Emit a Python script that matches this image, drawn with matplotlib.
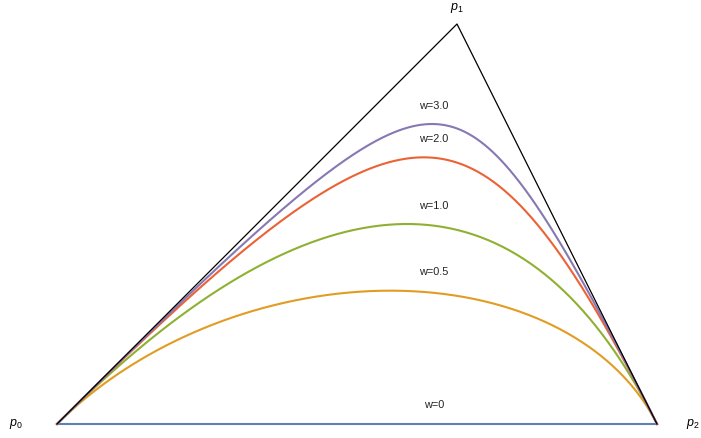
import numpy as np
import matplotlib.pyplot as plt

plt.rcParams['font.family'] = ['Liberation Sans', 'DejaVu Sans']
plt.rcParams['mathtext.fontset'] = 'custom'
plt.rcParams['mathtext.it'] = 'Liberation Sans:italic'
plt.rcParams['mathtext.rm'] = 'Liberation Sans'

# control points of the quadratic curve
p0 = np.array([0.0, 0.0])
p1 = np.array([4.0, 4.0])
p2 = np.array([6.0, 0.0])

weights = [0, 0.5, 1.0, 2.0, 3.0]
labels = ['w=0', 'w=0.5', 'w=1.0', 'w=2.0', 'w=3.0']
colors = ['#5e81b5', '#e19c24', '#8fb032', '#eb6235', '#8778b3']


def rational_bezier(w, n=300):
    t = np.linspace(0, 1, n)[:, None]
    b0 = (1 - t) ** 2
    b1 = 2 * w * t * (1 - t)
    b2 = t ** 2
    pts = (b0 * p0 + b1 * p1 + b2 * p2) / (b0 + b1 + b2)
    return pts


fig = plt.figure(figsize=(7.01, 4.38), dpi=100)
ax = fig.add_axes([0, 0, 1, 1])

# control polygon
ax.plot([p0[0], p1[0], p2[0]], [p0[1], p1[1], p2[1]], color='black', lw=0.9, zorder=3)

for w, lab, c in zip(weights, labels, colors):
    pts = rational_bezier(w)
    ax.plot(pts[:, 0], pts[:, 1], color=c, lw=1.5, zorder=2)
    top = pts[:, 1].max()
    ax.text(3.77, top + 0.185, lab, ha='center', va='center', fontsize=7.8, color='#222222')

ax.text(p0[0] - 0.41, p0[1], '$p_0$', ha='center', va='center', fontsize=9)
ax.text(p1[0], p1[1] + 0.16, '$p_1$', ha='center', va='center', fontsize=9)
ax.text(p2[0] + 0.36, p2[1], '$p_2$', ha='center', va='center', fontsize=9)

ax.set_xlim(-0.57, 6.44)
ax.set_ylim(-0.14, 4.24)
ax.axis('off')

fig.savefig('out.png', dpi=100)
